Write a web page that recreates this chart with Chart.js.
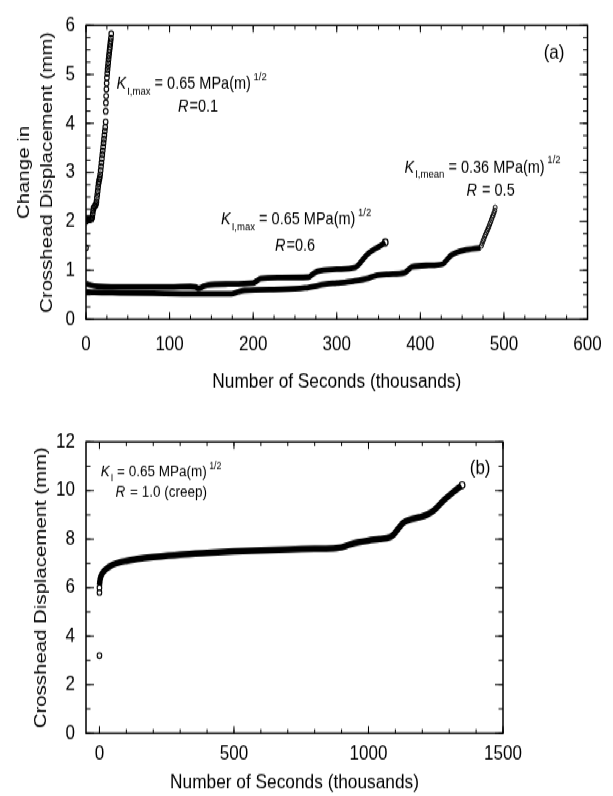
<!DOCTYPE html>
<html>
<head>
<meta charset="utf-8">
<script src="https://cdn.jsdelivr.net/npm/chart.js@4.4.1/dist/chart.umd.min.js"></script>
<style>
html, body { margin: 0; padding: 0; background: #fff; }
body { width: 613px; height: 796px; }
#wrap { width: 613px; height: 663px; transform: scaleY(1.2); transform-origin: 0 0; }
canvas { display: block; }
</style>
</head>
<body>
<div id="wrap">
  <canvas id="chartA" width="613" height="333"></canvas>
  <canvas id="chartB" width="613" height="330"></canvas>
</div>
<script>
// (a) change in crosshead displacement, x in thousands of seconds
const r01X = [0, 0, 0.6, 1.5, 2.5, 3.5, 4.5, 5.5, 6.5, 7.5, 8, 8.5, 9, 10, 11, 12, 12.5, 13, 13.5, 14,
  14.5, 15, 15.5, 16, 16.5, 17, 17.5, 18, 18.5, 19, 19.5, 20, 20.5, 21, 21.5, 22, 22.5, 23,
  23.5, 23.6, 23.8, 24.1, 24.4, 24.7, 25, 25.4, 25.8, 26.2, 26.6, 27, 27.4, 27.8, 28.2, 28.6, 29,
  29.4, 29.8, 30.2];
const r01Y = [1.46, 2.0, 2.05, 2.04, 2.06, 2.03, 2.05, 2.04, 2.06, 2.08, 2.15, 2.22, 2.27, 2.3, 2.32, 2.35, 2.4, 2.48, 2.55, 2.62,
  2.7, 2.77, 2.82, 2.86, 2.9, 2.96, 3.04, 3.12, 3.2, 3.28, 3.36, 3.44, 3.52, 3.6, 3.68, 3.76, 3.84, 3.92,
  4.03, 4.25, 4.42, 4.56, 4.7, 4.82, 4.93, 5.02, 5.1, 5.17, 5.24, 5.31, 5.38, 5.44, 5.5, 5.56, 5.62,
  5.68, 5.74, 5.83];

const r06X = [0, 5, 15, 30, 60, 100, 125, 131, 135, 139, 145, 170, 200, 204, 209, 230, 266, 271, 277, 300, 322, 327, 333, 339, 345, 352, 358];
const r06Y = [0.73, 0.7, 0.67, 0.66, 0.66, 0.66, 0.67, 0.66, 0.63, 0.66, 0.7, 0.72, 0.74, 0.78, 0.83, 0.85, 0.86, 0.92, 0.98, 1.02, 1.06, 1.13, 1.26, 1.36, 1.43, 1.5, 1.57];

const r05X = [0, 10, 40, 80, 130, 174, 182, 190, 235, 262, 288, 300, 320, 338, 346, 362, 381, 385, 390, 410, 427, 432, 437, 444, 452, 472];
const r05Y = [0.56, 0.55, 0.54, 0.53, 0.52, 0.52, 0.56, 0.59, 0.61, 0.64, 0.72, 0.74, 0.78, 0.84, 0.89, 0.92, 0.95, 1.0, 1.07, 1.1, 1.13, 1.22, 1.31, 1.37, 1.41, 1.46];
const r05TailX = [473, 474, 475, 476, 477, 478, 479, 480, 481, 482, 483, 484, 485, 486, 487, 488, 489, 489.5];
const r05TailY = [1.5, 1.55, 1.6, 1.64, 1.69, 1.73, 1.77, 1.81, 1.85, 1.89, 1.94, 1.98, 2.03, 2.08, 2.12, 2.17, 2.22, 2.28];

// (b) creep, R = 1.0
const creepX = [0, 2, 5, 10, 20, 35, 50, 75, 100, 150, 200, 300, 400, 500, 600, 700, 800, 880, 900, 930,
  960, 1000, 1040, 1080, 1095, 1110, 1130, 1160, 1190, 1220, 1245, 1280, 1317, 1345];
const creepY = [6.1, 6.3, 6.45, 6.58, 6.72, 6.85, 6.95, 7.04, 7.1, 7.2, 7.26, 7.36, 7.43, 7.49, 7.53, 7.57, 7.6, 7.63, 7.66, 7.77,
  7.86, 7.94, 8.0, 8.08, 8.2, 8.42, 8.68, 8.82, 8.9, 9.02, 9.2, 9.6, 9.95, 10.2];
const creepStartX = [0, 0, 0];
const creepStartY = [3.2, 5.8, 6.0];
const endX = [358, 1348];
const endY = [1.57, 10.22];

// tick labels
const xTicksA = [0, 100, 200, 300, 400, 500, 600];
const yTicksA = [0, 1, 2, 3, 4, 5, 6];
const xTicksB = [0, 500, 1000, 1500];
const yTicksB = [0, 2, 4, 6, 8, 10, 12];

const FONT = '"Liberation Sans", Arial, sans-serif';
const xy = (xs, ys) => xs.map((v, i) => ({x: v, y: ys[i]}));

// inward ticks on all four sides plus the frame
const frameTicks = {
  id: 'frameTicks',
  afterDatasetsDraw(chart, args, o) {
    const {ctx, chartArea: a} = chart;
    const sx = chart.scales.x, sy = chart.scales.y;
    ctx.save();
    ctx.strokeStyle = '#000';
    ctx.lineWidth = 1;
    const run = (scale, step, len) => {
      const n0 = Math.ceil(scale.min / step - 1e-9), n1 = Math.floor(scale.max / step + 1e-9);
      for (let n = n0; n <= n1; n++) {
        const p = scale.getPixelForValue(n * step);
        ctx.beginPath();
        if (scale.axis === 'x') {
          ctx.moveTo(p, a.bottom); ctx.lineTo(p, a.bottom - len);
          ctx.moveTo(p, a.top); ctx.lineTo(p, a.top + len);
        } else {
          ctx.moveTo(a.left, p); ctx.lineTo(a.left + len, p);
          ctx.moveTo(a.right, p); ctx.lineTo(a.right - len, p);
        }
        ctx.stroke();
      }
    };
    run(sx, o.xMinor, 3.5);
    run(sx, o.xMajor, 6);
    run(sy, o.yMinor, 4.5);
    run(sy, o.yMajor, 8);
    ctx.lineWidth = 1.5;
    ctx.strokeRect(a.left, a.top, a.right - a.left, a.bottom - a.top);
    ctx.restore();
  }
};

// annotation text with italic / sub / sup pieces
const notes = {
  id: 'notes',
  afterDraw(chart, args, o) {
    const {ctx} = chart;
    const sx = chart.scales.x, sy = chart.scales.y;
    ctx.save();
    ctx.fillStyle = '#000';
    ctx.textBaseline = 'alphabetic';
    ctx.textAlign = 'left';
    o.items.forEach(it => {
      const size = it.size;
      const fontFor = k => (k === 'i' ? 'italic ' : '') + ((k === 'sub' || k === 'sup') ? size * 0.66 : size) + 'px ' + FONT;
      let w = 0;
      it.parts.forEach(([t, k]) => { ctx.font = fontFor(k); w += ctx.measureText(t).width; });
      let x = sx.getPixelForValue(it.x);
      const y = sy.getPixelForValue(it.y);
      if (it.align === 'center') x -= w / 2;
      it.parts.forEach(([t, k]) => {
        ctx.font = fontFor(k);
        const dy = k === 'sub' ? size * 0.3 : k === 'sup' ? -size * 0.5 : 0;
        ctx.fillText(t, x, y + dy);
        x += ctx.measureText(t).width + (k === 'i' ? 1 : 0);
      });
    });
    ctx.restore();
  }
};

const KMAX = [['K', 'i'], ['I,max', 'sub'], [' = 0.65 MPa(m)', ''], [' 1/2', 'sup']];

function axis(min, max, ticks, fit, extra) {
  return Object.assign({
    type: 'linear',
    min: min,
    max: max,
    afterBuildTicks: s => { s.ticks = ticks.map(v => ({value: v})); },
    afterFit: fit,
    grid: {display: false, drawTicks: false},
    border: {display: false}
  }, extra);
}

const tickFont = {family: FONT, size: 17};

new Chart(document.getElementById('chartA'), {
  type: 'scatter',
  data: {
    datasets: [
      {data: xy(r06X, r06Y), showLine: true, borderColor: '#000', borderWidth: 4.8, pointRadius: 0, cubicInterpolationMode: 'monotone'},
      {data: xy(r05X, r05Y), showLine: true, borderColor: '#000', borderWidth: 4.8, pointRadius: 0, cubicInterpolationMode: 'monotone'},
      {data: xy(r05TailX, r05TailY), pointRadius: 2, borderWidth: 1, borderColor: '#000', backgroundColor: 'rgba(0,0,0,0)'},
      {data: xy(r01X, r01Y), pointRadius: 2.3, borderWidth: 1.1, borderColor: '#000', backgroundColor: 'rgba(0,0,0,0)'},
      {data: xy(endX.slice(0, 1), endY.slice(0, 1)), pointRadius: 2.8, borderWidth: 1.2, borderColor: '#000', backgroundColor: '#fff'}
    ]
  },
  options: {
    responsive: false,
    animation: false,
    events: [],
    layout: {padding: {top: 13.3, right: 17, left: 0, bottom: 0}},
    plugins: {
      legend: {display: false},
      tooltip: {enabled: false},
      frameTicks: {xMajor: 100, xMinor: 25, yMajor: 1, yMinor: 0.25},
      notes: {items: [
        {x: 36.5, y: 4.70, size: 14.5, parts: KMAX},
        {x: 133.5, y: 4.24, size: 14.5, align: 'center', parts: [['R', 'i'], ['=0.1', '']]},
        {x: 161.5, y: 1.93, size: 14.5, parts: KMAX},
        {x: 249.5, y: 1.40, size: 14.5, align: 'center', parts: [['R', 'i'], ['=0.6', '']]},
        {x: 381, y: 3.0, size: 14.5, parts: [['K', 'i'], ['I,mean', 'sub'], [' = 0.36 MPa(m)', ''], [' 1/2', 'sup']]},
        {x: 483.5, y: 2.53, size: 14.5, align: 'center', parts: [['R', 'i'], [' = 0.5', '']]},
        {x: 560, y: 5.31, size: 17, align: 'center', parts: [['(a)', '']]}
      ]}
    },
    scales: {
      x: axis(0, 600, xTicksA, s => { s.height = 66.9; }, {
        ticks: {color: '#000', font: tickFont, autoSkip: false, maxRotation: 0, padding: 11.3, callback: v => String(v)},
        title: {display: true, text: 'Number of Seconds (thousands)', color: '#000',
          font: {family: FONT, size: 17.3}, padding: {top: 0, bottom: 4.3}}
      }),
      y: axis(0, 6, yTicksA, s => { s.width = 86; }, {
        ticks: {color: '#000', font: tickFont, autoSkip: false, padding: 11, callback: v => String(v)},
        title: {display: true, text: ['Change in', 'Crosshead Displacement (mm)'], color: '#000',
          font: {family: FONT, size: 17, lineHeight: 1.38}, padding: {top: 12.3, bottom: 0}}
      })
    }
  },
  plugins: [frameTicks, notes]
});

new Chart(document.getElementById('chartB'), {
  type: 'scatter',
  data: {
    datasets: [
      {data: xy(creepX, creepY), showLine: true, borderColor: '#000', borderWidth: 5.5, pointRadius: 0, cubicInterpolationMode: 'monotone'},
      {data: xy(creepStartX, creepStartY), pointRadius: 2.3, borderWidth: 1.1, borderColor: '#000', backgroundColor: 'rgba(0,0,0,0)'},
      {data: xy(endX.slice(1), endY.slice(1)), pointRadius: 2.8, borderWidth: 1.2, borderColor: '#000', backgroundColor: '#fff'}
    ]
  },
  options: {
    responsive: false,
    animation: false,
    events: [],
    layout: {padding: {top: 35.3, right: 110, left: 0, bottom: 0}},
    plugins: {
      legend: {display: false},
      tooltip: {enabled: false},
      frameTicks: {xMajor: 500, xMinor: 100, yMajor: 2, yMinor: 1},
      notes: {items: [
        {x: 5, y: 10.56, size: 13.5, parts: [['K', 'i'], ['I', 'sub'], [' = 0.65 MPa(m)', ''], [' 1/2', 'sup']]},
        {x: 60, y: 9.74, size: 13.5, parts: [['R', 'i'], [' = 1.0 (creep)', '']]},
        {x: 1415, y: 10.67, size: 17, align: 'center', parts: [['(b)', '']]}
      ]}
    },
    scales: {
      x: axis(-50, 1500, xTicksB, s => { s.height = 51.9; }, {
        ticks: {color: '#000', font: tickFont, autoSkip: false, maxRotation: 0, padding: 6.6, callback: v => String(v)},
        title: {display: true, text: 'Number of Seconds (thousands)', color: '#000',
          font: {family: FONT, size: 17.3}, padding: {top: 0, bottom: 0}}
      }),
      y: axis(0, 12, yTicksB, s => { s.width = 86; }, {
        ticks: {color: '#000', font: tickFont, autoSkip: false, padding: 11, callback: v => String(v)},
        title: {display: true, text: 'Crosshead Displacement (mm)', color: '#000',
          font: {family: FONT, size: 17}, padding: {top: 30.8, bottom: 0}}
      })
    }
  },
  plugins: [frameTicks, notes]
});
</script>
</body>
</html>
